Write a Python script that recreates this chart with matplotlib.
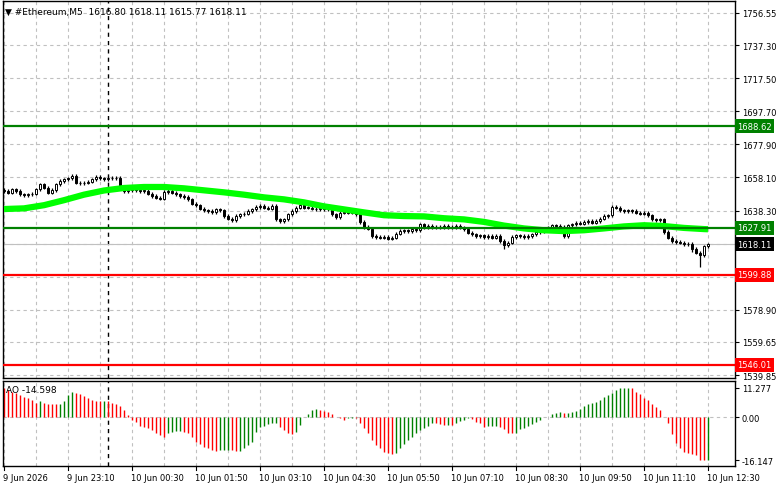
import numpy as np
import matplotlib
matplotlib.use("Agg")
import matplotlib.pyplot as plt
import matplotlib.transforms as mtransforms

# close of every 5 minute bar, 9 Jun 21:50 .. 10 Jun 12:30
closes = [
    1650.0, 1649.0, 1651.0, 1650.0, 1648.0, 1647.5, 1648.0, 1648.5,
    1651.0, 1654.0, 1652.0, 1649.0, 1650.5, 1654.0, 1656.0, 1657.0,
    1657.5, 1659.0, 1655.0, 1654.5, 1655.0, 1655.5, 1657.0, 1658.5,
    1657.5, 1657.0, 1658.0, 1657.5, 1658.0, 1651.5, 1650.0, 1650.5,
    1651.0, 1650.5, 1650.0, 1650.0, 1648.5, 1647.0, 1646.0, 1645.5,
    1649.5, 1650.0, 1649.0, 1648.0, 1647.0, 1646.5, 1645.0, 1642.5,
    1641.5, 1639.5, 1638.5, 1638.0, 1637.5, 1639.0, 1638.5, 1635.0,
    1633.5, 1632.5, 1635.0, 1636.0, 1636.5, 1638.0, 1639.0, 1640.5,
    1641.0, 1640.0, 1639.5, 1641.0, 1633.0, 1632.0, 1633.0, 1636.0,
    1638.0, 1640.0, 1641.5, 1640.0, 1640.0, 1639.5, 1639.0, 1640.0,
    1639.0, 1639.0, 1636.0, 1634.5, 1637.0, 1637.5, 1637.0, 1638.0,
    1636.0, 1631.5, 1628.5, 1627.5, 1623.0, 1622.5, 1622.0, 1622.5,
    1621.5, 1622.0, 1624.5, 1626.0, 1626.5, 1626.0, 1627.0, 1626.5,
    1630.0, 1628.5, 1629.0, 1628.0, 1628.5, 1628.0, 1629.0, 1628.0,
    1628.5, 1629.0, 1628.0, 1627.0, 1625.0, 1624.0, 1623.0, 1623.5,
    1622.5, 1623.0, 1622.0, 1623.0, 1620.0, 1617.5, 1619.0, 1622.5,
    1623.5, 1623.0, 1622.5, 1623.0, 1624.0, 1625.5, 1626.0, 1627.0,
    1628.0, 1629.5, 1629.0, 1628.5, 1623.0, 1629.5, 1630.0, 1631.0,
    1630.5, 1631.5, 1632.0, 1631.0, 1632.0, 1633.5, 1635.0, 1635.5,
    1640.5, 1640.0, 1638.5, 1638.0, 1638.5, 1638.0, 1637.0, 1636.5,
    1637.0, 1635.5, 1633.0, 1632.5, 1633.0, 1625.5, 1622.0, 1620.0,
    1619.5, 1619.0, 1618.0, 1618.5, 1615.5, 1613.0, 1611.5, 1616.8,
    1618.11,
]
first_open = 1650.5
long_lows = {174: 1604.5, 125: 1615.5, 89: 1630.0, 172: 1613.5}

# moving average (bright green), read every 5 bars
ma_bars = list(range(0, 176, 5)) + [176]
ma_vals = [
    1639.2, 1639.6, 1641.5, 1644.5, 1647.8, 1650.3, 1651.8, 1652.4,
    1652.4, 1651.6, 1650.4, 1649.2, 1647.8, 1646.2, 1645.0, 1643.2,
    1640.8, 1639.0, 1637.2, 1635.5, 1635.0, 1634.8, 1633.7, 1633.0,
    1631.5, 1629.3, 1627.6, 1626.5, 1626.0, 1626.5, 1627.6, 1628.8,
    1629.5, 1629.0, 1627.9, 1627.2, 1627.1,
]

# Awesome Oscillator
ao = [
    11.0, 10.4, 9.7, 9.1, 8.5, 7.8, 7.2, 6.6,
    5.6, 6.2, 5.3, 5.1, 5.0, 4.9, 5.2, 6.3,
    8.5, 9.5, 9.1, 8.8, 8.1, 7.2, 6.6, 6.2,
    6.1, 6.3, 6.2, 5.6, 5.1, 4.3, 2.8, 1.0,
    -0.8, -1.6, -3.3, -3.8, -4.2, -4.8, -6.1, -6.7,
    -7.3, -6.1, -5.4, -5.3, -5.2, -5.4, -6.1, -7.3,
    -9.2, -9.9, -11.1, -11.7, -12.4, -12.6, -12.5, -12.4,
    -12.3, -12.4, -12.9, -12.8, -11.7, -10.5, -9.2, -5.4,
    -3.5, -3.2, -2.5, -2.3, -2.2, -3.5, -4.8, -5.8,
    -6.3, -5.4, -2.9, 0.2, 1.3, 2.8, 3.2, 2.8,
    2.4, 2.0, 1.3, 0.3, -0.1, -0.8, -0.3, -0.1,
    -0.3, -2.0, -4.2, -6.1, -8.6, -10.5, -11.5, -13.0,
    -13.6, -13.9, -13.4, -11.7, -10.2, -8.6, -7.3, -5.8,
    -4.8, -3.9, -3.3, -2.0, -2.3, -2.5, -2.9, -2.7,
    -2.8, -2.0, -1.4, -0.8, -0.4, -0.6, -1.6, -2.3,
    -3.5, -3.3, -3.2, -3.1, -3.5, -4.5, -5.8, -6.1,
    -6.0, -4.5, -3.9, -3.3, -2.5, -1.6, -0.8, 0.1,
    0.3, 1.3, 1.8, 2.0, 1.6, 1.7, 1.9, 2.4,
    3.0, 4.4, 5.1, 5.3, 5.9, 6.6, 7.6, 8.5,
    9.1, 10.4, 11.0, 11.1, 11.277, 11.0, 9.7, 8.8,
    7.2, 6.6, 5.1, 4.0, 2.8, 0.3, -2.0, -6.4,
    -9.6, -11.7, -13.0, -13.6, -13.9, -14.3, -16.0, -16.147,
    -16.0,
]

price_ticks = [1756.55, 1737.30, 1717.50, 1697.70, 1677.90, 1658.10, 1638.30,
               1618.50, 1598.70, 1578.90, 1559.65, 1539.85]
hidden_ticks = [1618.50, 1598.70]  # covered by the price boxes
time_labels = ["9 Jun 2026", "9 Jun 23:10", "10 Jun 00:30", "10 Jun 01:50",
               "10 Jun 03:10", "10 Jun 04:30", "10 Jun 05:50", "10 Jun 07:10",
               "10 Jun 08:30", "10 Jun 09:50", "10 Jun 11:10", "10 Jun 12:30"]
levels = [(1688.62, "#008000"), (1627.91, "#008000"),
          (1599.88, "#FF0000"), (1546.01, "#FF0000")]
last_price = 1618.11
day_break = 26  # bar of 10 Jun 00:00

plt.rcParams["font.family"] = "DejaVu Sans"
fs = 6

fig = plt.figure(figsize=(7.81, 4.89), dpi=100)
ax = fig.add_axes([3 / 781, 110 / 489, 732 / 781, 377 / 489])
ax2 = fig.add_axes([3 / 781, 22 / 489, 732 / 781, 85 / 489])

n = len(closes)
x = np.arange(n)
opens = [first_open] + closes[:-1]
grid_kw = dict(color="#C0C0C0", lw=0.8, ls=(0, (3, 3)), zorder=0)

for a in (ax, ax2):
    a.set_xlim(-0.25, 182.75)
    for s in a.spines.values():
        s.set_color("black")
        s.set_linewidth(1)
    for b in range(0, n, 8):
        a.axvline(b, **grid_kw)
    a.axvline(day_break, color="black", lw=1, ls=(0, (3, 3)), zorder=1)
    a.yaxis.tick_right()
    a.tick_params(axis="y", labelsize=fs, length=3, pad=2, colors="black")
    a.set_xticks([])

# price panel
ax.set_ylim(1538.06, 1763.73)
ax.set_yticks(price_ticks)
ax.set_yticklabels(["" if p in hidden_ticks else f"{p:.2f}" for p in price_ticks])
for p in price_ticks:
    ax.axhline(p, **grid_kw)

for i in range(n):
    o, c = opens[i], closes[i]
    hi = max(o, c) + 1.0
    lo = long_lows.get(i, min(o, c) - 1.0)
    ax.vlines(i, lo, hi, color="black", lw=0.9, zorder=2)
    body = max(abs(c - o), 0.4)
    ax.bar(i, body, bottom=min(o, c), width=0.72,
           color="white" if c >= o else "black", edgecolor="black",
           linewidth=0.7, zorder=2)

ax.plot(ma_bars, ma_vals, color="#00FF00", lw=4.5, solid_capstyle="butt", zorder=3)
ax.axhline(last_price, color="#C0C0C0", lw=0.8, zorder=1)

trans = mtransforms.blended_transform_factory(ax.transAxes, ax.transData)
for p, col in levels:
    ax.axhline(p, color=col, lw=1.6, zorder=4)
    ax.text(1.003, p, f"{p:.2f}", transform=trans, ha="left", va="center",
            fontsize=fs, color="white", zorder=6, clip_on=False,
            bbox=dict(boxstyle="square,pad=0.3", fc=col, ec="none"))
ax.text(1.003, last_price, f"{last_price:.2f}", transform=trans, ha="left",
        va="center", fontsize=fs, color="white", zorder=6, clip_on=False,
        bbox=dict(boxstyle="square,pad=0.3", fc="black", ec="none"))

ax.text(0.003, 0.985, "\u25bc #Ethereum,M5  1616.80 1618.11 1615.77 1618.11",
        transform=ax.transAxes, ha="left", va="top", fontsize=6.5, color="black")

# oscillator panel
ax2.set_ylim(-18.42, 13.8)
ax2.set_yticks([11.277, 0.0, -16.147])
ax2.set_yticklabels(["11.277", "0.00", "-16.147"])
ax2.axhline(0, **grid_kw)
cols = ["#FF0000"] + ["#008000" if ao[i] > ao[i - 1] else "#FF0000" for i in range(1, n)]
ax2.vlines(x, 0, ao, colors=cols, lw=1, zorder=2)
ax2.text(0.004, 0.95, "AO -14.598", transform=ax2.transAxes, ha="left", va="top",
         fontsize=6.5, color="black")

tt = mtransforms.blended_transform_factory(ax2.transData, ax2.transAxes)
for k, lab in enumerate(time_labels):
    b = k * 16
    ax2.plot([b, b], [0, -0.05], color="black", lw=0.8, transform=tt, clip_on=False)
    ax2.text(b - 0.2, -0.08, lab, transform=tt, ha="left", va="top", fontsize=fs)

fig.savefig("out.png", dpi=100, facecolor="white")
